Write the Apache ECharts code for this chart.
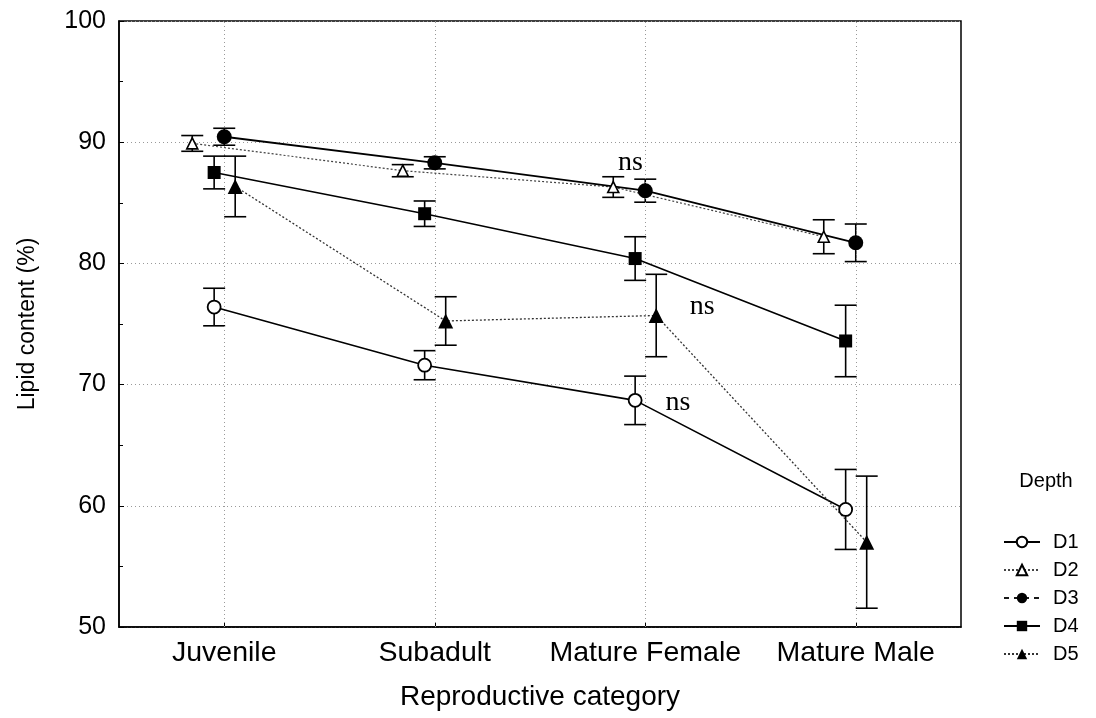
<!DOCTYPE html>
<html>
<head>
<meta charset="utf-8">
<script src="https://cdn.jsdelivr.net/npm/echarts@6/dist/echarts.min.js"></script>
<style>
  html, body { margin: 0; padding: 0; background: #fff; }
  #chart { width: 1096px; height: 718px; }
</style>
</head>
<body>
<div id="chart"></div>
<script>
// Lipid content (%) by reproductive category, mean ± error, per depth stratum
const categories = ['Juvenile', 'Subadult', 'Mature Female', 'Mature Male'];
const depths = ['D1', 'D2', 'D3', 'D4', 'D5'];

const meanD1 = [76.4, 71.6, 68.7, 59.7];
const errD1  = [1.55, 1.2, 2.0, 3.3];
const meanD2 = [89.9, 87.65, 86.3, 82.2];
const errD2  = [0.65, 0.5, 0.85, 1.4];
const meanD3 = [90.45, 88.3, 86.0, 81.7];
const errD3  = [0.7, 0.5, 0.95, 1.55];
const meanD4 = [87.5, 84.1, 80.4, 73.6];
const errD4  = [1.35, 1.05, 1.8, 2.95];
const meanD5 = [86.35, 75.25, 75.7, 57.0];
const errD5  = [2.5, 2.0, 3.4, 5.45];

const yTicks = [50, 60, 70, 80, 90, 100];
const noteText = 'ns';

// ---- layout / styling ----
const means = { D1: meanD1, D2: meanD2, D3: meanD3, D4: meanD4, D5: meanD5 };
const errs  = { D1: errD1,  D2: errD2,  D3: errD3,  D4: errD4,  D5: errD5 };
// horizontal dodge of each depth around the category centre (in category units)
const dodge = { D1: -0.048, D2: -0.152, D3: 0, D4: -0.048, D5: 0.052 };
// "ns" annotation anchors (category units, % lipid)
const notePos = [[1.93, 88.3], [2.27, 76.45], [2.155, 68.5]];

const SANS = '"Liberation Sans", Arial, Helvetica, sans-serif';
const SERIF = '"Liberation Serif", "Times New Roman", serif';

const styles = {
  D1: { symbol: 'circle',   size: 13, fill: '#fff', border: 1.8, line: 'solid', lw: 1.6, lc: '#000' },
  D2: { symbol: 'triangle', size: 11, fill: '#fff', border: 1.6, line: [2, 2],  lw: 1.2, lc: '#444' },
  D3: { symbol: 'circle',   size: 15, fill: '#000', border: 0,   line: 'solid', lw: 1.8, lc: '#000' },
  D4: { symbol: 'rect',     size: 13, fill: '#000', border: 0,   line: 'solid', lw: 1.6, lc: '#000' },
  D5: { symbol: 'triangle', size: 15, fill: '#000', border: 0,   line: [2, 2],  lw: 1.3, lc: '#333' }
};

function errorBar(params, api) {
  const x = api.value(0), lo = api.value(1), hi = api.value(2);
  const a = api.coord([x, lo]), b = api.coord([x, hi]);
  const w = 11;
  const st = { stroke: '#000', lineWidth: 1.6 };
  return {
    type: 'group',
    children: [
      { type: 'line', shape: { x1: a[0], y1: a[1], x2: b[0], y2: b[1] }, style: st },
      { type: 'line', shape: { x1: a[0] - w, y1: a[1], x2: a[0] + w, y2: a[1] }, style: st },
      { type: 'line', shape: { x1: b[0] - w, y1: b[1], x2: b[0] + w, y2: b[1] }, style: st }
    ]
  };
}

const series = [];

// vertical dotted grid at each category
series.push({
  type: 'line', data: [], silent: true, z: 1,
  markLine: {
    silent: true, symbol: 'none', label: { show: false },
    lineStyle: { type: [1, 3], color: '#999', width: 1 },
    data: categories.map((c, i) => ({ xAxis: i }))
  }
});

depths.forEach(d => {
  series.push({
    type: 'custom', name: d + ' err', z: 3, silent: true,
    renderItem: errorBar,
    encode: { x: 0, y: [1, 2] },
    data: means[d].map((m, i) => [i + dodge[d], m - errs[d][i], m + errs[d][i]])
  });
});

depths.forEach(d => {
  const s = styles[d];
  series.push({
    type: 'line', name: d, z: 5,
    symbol: s.symbol, symbolSize: s.size,
    showAllSymbol: true,
    itemStyle: { color: s.fill, borderColor: '#000', borderWidth: s.border, opacity: 1 },
    lineStyle: { color: s.lc, width: s.lw, type: s.line },
    emphasis: { disabled: true },
    data: means[d].map((m, i) => [i + dodge[d], m])
  });
});

// "ns" notes
series.push({
  type: 'custom', name: 'notes', z: 6, silent: true,
  renderItem: (params, api) => {
    const p = api.coord([api.value(0), api.value(1)]);
    return {
      type: 'text',
      style: { text: noteText, x: p[0], y: p[1], align: 'center', verticalAlign: 'middle',
               font: '28px ' + SERIF, fill: '#000' }
    };
  },
  encode: { x: 0, y: 1 },
  data: notePos
});

const legendData = depths.map(d => d === 'D3'
  ? { name: d, lineStyle: { type: [5, 5], width: 1.8, color: '#000' } }
  : { name: d });

const option = {
  animation: false,
  backgroundColor: '#fff',
  grid: {
    left: 119, right: 135, top: 21, bottom: 91,
    show: true, borderColor: '#000', borderWidth: 1.5, backgroundColor: 'transparent'
  },
  xAxis: {
    type: 'value', min: -0.5, max: 3.5,
    splitLine: { show: false },
    axisLine: { show: true, onZero: false, lineStyle: { color: '#000', width: 1.5 } },
    axisTick: { show: true, inside: true, length: 5, customValues: [0, 1, 2, 3], lineStyle: { color: '#000' } },
    axisLabel: {
      customValues: [0, 1, 2, 3],
      formatter: v => categories[Math.round(v)],
      color: '#000', fontSize: 28.5, fontFamily: SANS, margin: 12
    },
    name: 'Reproductive category', nameLocation: 'middle', nameGap: 56,
    nameTextStyle: { color: '#000', fontSize: 28, fontFamily: SANS }
  },
  yAxis: {
    type: 'value', min: yTicks[0], max: yTicks[yTicks.length - 1], interval: 10,
    axisLine: { show: true, onZero: false, lineStyle: { color: '#000', width: 1.5 } },
    axisTick: { show: true, inside: true, length: 5, lineStyle: { color: '#000' } },
    minorTick: { show: true, splitNumber: 2, length: 4, lineStyle: { color: '#000' } },
    splitLine: { show: true, lineStyle: { type: [1, 3], color: '#999', width: 1 } },
    axisLabel: { color: '#000', fontSize: 25, fontFamily: SANS, margin: 13 },
    name: 'Lipid content (%)', nameLocation: 'middle', nameGap: 80, nameRotate: 90,
    nameTextStyle: { color: '#000', fontSize: 23, fontFamily: SANS }
  },
  legend: {
    orient: 'vertical', left: 998, top: 527,
    itemWidth: 36, itemHeight: 13, itemGap: 8,
    textStyle: { color: '#000', fontSize: 20, fontFamily: SANS, padding: [0, 0, 0, 8] },
    data: legendData,
    selectedMode: false
  },
  graphic: [{
    type: 'text', x: 1046, y: 481,
    style: { text: 'Depth', font: '20px ' + SANS, fill: '#000', align: 'center', verticalAlign: 'middle' }
  }],
  series: series
};

const chart = echarts.init(document.getElementById('chart'), null, { renderer: 'canvas' });
chart.setOption(option);
</script>
</body>
</html>
